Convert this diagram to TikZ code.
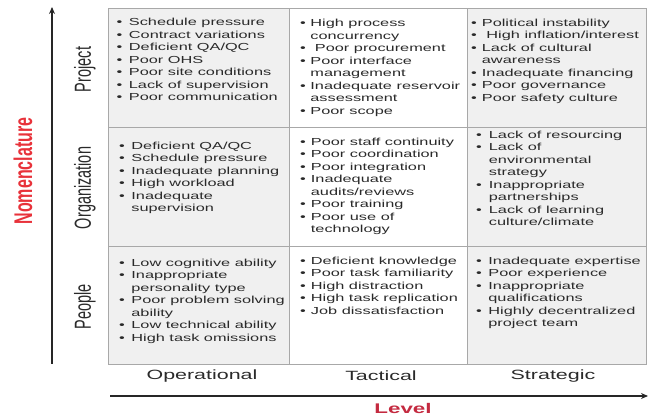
\documentclass[tikz,border=0pt]{standalone}
\usepackage{fontspec}
\setmainfont[FakeStretch=1.6]{Liberation Sans}
\newfontfamily\plainsans{Liberation Sans}
\usetikzlibrary{arrows.meta}
\definecolor{gridgray}{HTML}{A8A8A8}
\definecolor{cellgray}{HTML}{F0F0F0}
\definecolor{txt}{HTML}{2A2A2A}
\definecolor{nomred}{HTML}{E8323A}
\definecolor{levred}{HTML}{C42A40}
\newcommand{\bl}{\textbullet}
\newcommand{\itemtab}[2]{\begin{tabular}[t]{@{}l@{\hspace{#1}}l@{}}#2\end{tabular}}
\begin{document}
\begin{tikzpicture}[x=1pt,y=-1pt,
  cellbox/.style={draw=gridgray, line width=0.8pt, inner sep=0pt},
  graycell/.style={cellbox, fill=cellgray},
  whitecell/.style={cellbox, fill=white},
  items/.style={anchor=base west, inner sep=0pt, text=txt, font=\fontsize{10.2}{12.5}\selectfont},
  rowlab/.style={rotate=90, inner sep=0pt, text=txt, font=\plainsans\fontsize{14.5}{16}\selectfont},
  collab/.style={inner sep=0pt, text=txt, font=\fontsize{13.4}{15}\selectfont},
  axis/.style={line width=1.3pt, draw=black!85, -{Stealth[length=7pt,width=6pt]}}
]
\useasboundingbox (0,0) rectangle (649,419);

% grid cells
\node[graycell, minimum width=181pt, minimum height=119pt] (c11) at (198.5,67.5) {};
\node[whitecell, minimum width=178pt, minimum height=119pt] (c12) at (378,67.5) {};
\node[graycell, minimum width=179pt, minimum height=119pt] (c13) at (556.5,67.5) {};
\node[graycell, minimum width=181pt, minimum height=119pt] (c21) at (198.5,186.5) {};
\node[whitecell, minimum width=178pt, minimum height=119pt] (c22) at (378,186.5) {};
\node[graycell, minimum width=179pt, minimum height=119pt] (c23) at (556.5,186.5) {};
\node[graycell, minimum width=181pt, minimum height=118pt] (c31) at (198.5,305) {};
\node[whitecell, minimum width=178pt, minimum height=118pt] (c32) at (378,305) {};
\node[graycell, minimum width=179pt, minimum height=118pt] (c33) at (556.5,305) {};

% cell texts
\node[items] (t11) at (116.5,26) {\itemtab{6.5pt}{%
\bl & Schedule pressure\\
\bl & Contract variations\\
\bl & Deficient QA/QC\\
\bl & Poor OHS\\
\bl & Poor site conditions\\
\bl & Lack of supervision\\
\bl & Poor communication}};
\node[items] (t12) at (300,27) {\itemtab{4.5pt}{%
\bl & High process\\
    & concurrency\\
\bl & \ Poor procurement\\
\bl & Poor interface\\
    & management\\
\bl & Inadequate reservoir\\
    & assessment\\
\bl & Poor scope}};
\node[items] (t13) at (471,26.5) {\itemtab{5pt}{%
\bl & Political instability\\
\bl & \ High inflation/interest\\
\bl & Lack of cultural\\
    & awareness\\
\bl & Inadequate financing\\
\bl & Poor governance\\
\bl & Poor safety culture}};

\node[items] (t21) at (119,149.5) {\itemtab{6.5pt}{%
\bl & Deficient QA/QC\\
\bl & Schedule pressure\\
\bl & Inadequate planning\\
\bl & High workload\\
\bl & Inadequate\\
    & supervision}};
\node[items] (t22) at (300,145.5) {\itemtab{5pt}{%
\bl & Poor staff continuity\\
\bl & Poor coordination\\
\bl & Poor integration\\
\bl & Inadequate\\
    & audits/reviews\\
\bl & Poor training\\
\bl & Poor use of\\
    & technology}};
\node[items] (t23) at (476,138.5) {\itemtab{7pt}{%
\bl & Lack of resourcing\\
\bl & Lack of\\
    & environmental\\
    & strategy\\
\bl & Inappropriate\\
    & partnerships\\
\bl & Lack of learning\\
    & culture/climate}};

\node[items] (t31) at (119,266.5) {\itemtab{6.5pt}{%
\bl & Low cognitive ability\\
\bl & Inappropriate\\
    & personality type\\
\bl & Poor problem solving\\
    & ability\\
\bl & Low technical ability\\
\bl & High task omissions}};
\node[items] (t32) at (300,264.5) {\itemtab{5pt}{%
\bl & Deficient knowledge\\
\bl & Poor task familiarity\\
\bl & High distraction\\
\bl & High task replication\\
\bl & Job dissatisfaction}};
\node[items] (t33) at (476,264.5) {\itemtab{6.5pt}{%
\bl & Inadequate expertise\\
\bl & Poor experience\\
\bl & Inappropriate\\
    & qualifications\\
\bl & Highly decentralized\\
    & project team}};

% row labels
\node[rowlab] (rProject) at (85,69.5) {\scalebox{1}[1.6]{Project}};
\node[rowlab] (rOrg) at (85,188) {\scalebox{1}[1.6]{Organization}};
\node[rowlab] (rPeople) at (85,307) {\scalebox{1}[1.6]{People}};

% column labels
\node[collab] (lOp) at (202,376) {Operational};
\node[collab] (lTa) at (381,376) {Tactical};
\node[collab] (lSt) at (553,376) {Strategic};

% axes
\coordinate (vbot) at (52,364);
\coordinate (vtop) at (52,7);
\draw[axis] (vbot) -- (vtop);
\coordinate (hleft) at (110,396);
\coordinate (hright) at (648,396);
\draw[axis] (hleft) -- (hright);

% axis titles
\node[rotate=90, inner sep=0pt, text=nomred, font=\plainsans\bfseries\fontsize{16}{18}\selectfont] (nom) at (23,171) {\scalebox{1}[1.6]{Nomenclature}};
\node[inner sep=0pt, text=levred, font=\bfseries\fontsize{14}{16}\selectfont] (lev) at (403,408) {Level};
\end{tikzpicture}
\end{document}
